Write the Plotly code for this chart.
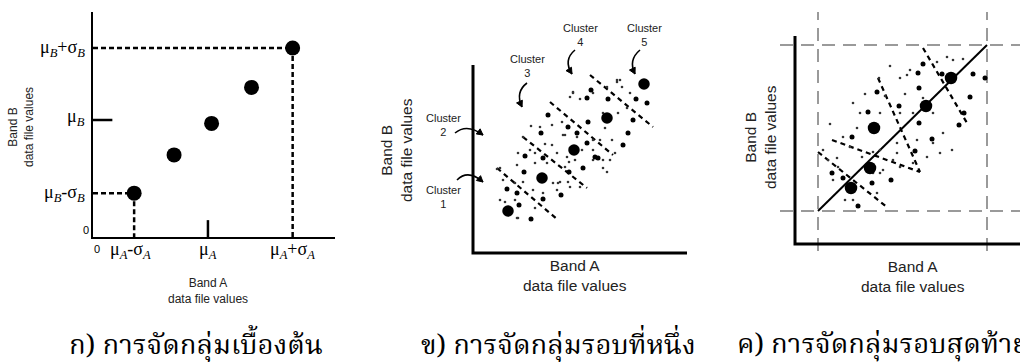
import plotly.graph_objects as go

W, H = 1020, 362

# ---------- panel (a): initial cluster means along the diagonal ----------
init_A = [17, 33.5, 49, 65.5, 82.5]
init_B = [19.5, 36.5, 50.5, 66.5, 84]
mean_A, mean_B = 47.5, 52

# ---------- panel (b): first pass ----------
p2_center_A = [35, 69, 101, 134, 171]
p2_center_B = [42, 75, 103, 135, 169]
p2_med_A = [68, 52, 70, 51, 34, 44, 88, 46, 58, 70, 96, 95, 104, 118, 114, 135, 163, 174, 160,
            155, 150, 125, 114, 115, 110, 75, 122]
p2_med_B = [120, 97, 95, 81, 64, 60, 58, 48, 34, 54, 81, 126, 120, 163, 155, 154, 154, 150, 133,
            120, 108, 95, 110, 131, 85, 138, 96]
p2_small_A = [58, 50, 79, 89, 72, 79, 62, 45, 62, 44, 84, 96, 24, 50, 42, 60, 80, 87, 95, 32, 42,
              70, 62, 44, 84, 74, 92, 144, 149, 157, 134, 120, 100, 107, 130, 145, 154, 90, 104,
              120, 127, 139, 97, 109, 120, 94, 102, 120, 130, 92, 142, 132, 144, 147, 100, 97,
              57, 67, 27, 30, 27, 45, 134, 130, 137, 85, 107, 97]
p2_small_B = [127, 116, 128, 131, 109, 108, 100, 100, 90, 88, 100, 91, 84, 71, 70, 63, 70, 71, 71,
              51, 53, 60, 45, 35, 63, 90, 118, 171, 166, 160, 166, 160, 160, 154, 140, 140, 145,
              118, 116, 113, 113, 113, 105, 103, 103, 96, 93, 93, 93, 86, 100, 125, 173, 173,
              161, 156, 103, 126, 85, 73, 53, 35, 81, 85, 93, 70, 66, 66]
p2_bounds = [((24, 85), (85, 33)), ((50, 116), (114, 65)),
             ((77, 151), (140, 98)), ((117, 178), (180, 126))]
p2_labels = ["Cluster<br>1", "Cluster<br>2", "Cluster<br>3", "Cluster<br>4", "Cluster<br>5"]
p2_label_A = [-30, -30, 54, 107, 171]
p2_label_B = [56, 128, 187, 218, 218]
# curved pointers: start, control, tip
p2_arrows = [((-16, 73), (-5, 84), (10, 71)), ((-18, 120), (-6, 130), (10, 118)),
             ((54, 170), (42, 161), (49, 146)), ((102, 203), (90, 193), (99, 179)),
             ((167, 203), (155, 193), (162, 179))]

# ---------- panel (c): final pass ----------
p3_center_A = [56, 75, 79, 131, 156]
p3_center_B = [56, 76, 116, 138, 166]
p3_med_A = [128, 123, 147, 178, 190, 82, 124, 175, 73, 104, 57, 124, 137, 164, 169, 120, 37, 48,
            96, 77, 63]
p3_med_B = [180, 171, 170, 170, 166, 152, 156, 147, 132, 138, 107, 121, 105, 119, 131, 93, 71,
            66, 64, 61, 38]
p3_small_A = [84, 105, 115, 152, 158, 142, 112, 58, 65, 85, 105, 118, 138, 148, 145, 157, 62, 48,
              55, 85, 102, 98, 105, 118, 28, 33, 42, 88, 78, 58, 82, 50, 85, 132, 138, 78, 67,
              38, 43, 102, 128, 122, 95, 90, 168, 110, 70, 35]
p3_small_B = [166, 166, 174, 187, 184, 182, 169, 141, 131, 131, 131, 131, 131, 111, 91, 94, 116,
              107, 97, 94, 101, 84, 77, 81, 94, 84, 86, 74, 71, 44, 51, 44, 71, 87, 101, 92, 87,
              64, 77, 91, 146, 104, 178, 148, 185, 150, 150, 120]
p3_bounds = [((23, 92), (93, 36)), ((37, 104), (125, 72)),
             ((83, 166), (125, 72)), ((128, 196), (172, 121))]
p3_lim_A = [23, 192]
p3_lim_B = [33, 199]

captions = ["ก) การจัดกลุ่มเบื้องต้น", "ข) การจัดกลุ่มรอบที่หนึ่ง", "ค) การจัดกลุ่มรอบสุดท้าย"]
axis_title_B = "Band B<br>data file values"
axis_title_A = "Band A<br>data file values"

SANS = "Liberation Sans, Arial, sans-serif"
SERIF = "Liberation Serif, Times New Roman, serif"
THAI = "Angsana New, TH Sarabun New, Noto Serif Thai, Norasi, Loma, Garuda, Noto Sans Thai, serif"

fig = go.Figure()


def px_x(p):
    return p / W


def px_y(p):
    return 1 - p / H


def paper_text(x, y, text, font, xanchor="center", yanchor="middle", **kw):
    fig.add_annotation(x=px_x(x), y=px_y(y), xref="paper", yref="paper", text=text,
                       showarrow=False, font=font, xanchor=xanchor, yanchor=yanchor, **kw)


# ===== panel (a) =====
ax1 = dict(xaxis="x", yaxis="y")
lo, hi = init_A[0], init_A[-1]
blo, bhi = init_B[0], init_B[-1]
dash1 = dict(color="black", width=2.5, dash="5px,3px")
for xs, ys in [([0, hi], [bhi, bhi]), ([hi, hi], [bhi, 0]),
               ([0, lo], [blo, blo]), ([lo, lo], [blo, 0])]:
    fig.add_trace(go.Scatter(x=xs, y=ys, mode="lines", line=dash1, **ax1))
tick1 = dict(color="black", width=2.5)
fig.add_trace(go.Scatter(x=[0, 8], y=[mean_B, mean_B], mode="lines", line=tick1, **ax1))
fig.add_trace(go.Scatter(x=[mean_A, mean_A], y=[0, 7.5], mode="lines", line=tick1, **ax1))
fig.add_trace(go.Scatter(x=init_A, y=init_B, mode="markers", cliponaxis=False,
                         marker=dict(size=15, color="black"), **ax1))

mu_font = dict(family=SERIF, size=18, color="black")
for txt, yv in [("μ<sub><i>B</i></sub>+σ<sub><i>B</i></sub>", bhi),
                ("μ<sub><i>B</i></sub>", mean_B + 1),
                ("μ<sub><i>B</i></sub>-σ<sub><i>B</i></sub>", blo)]:
    fig.add_annotation(x=0, y=yv, xref="x", yref="y", text=txt, showarrow=False,
                       xanchor="right", yanchor="middle", xshift=-6, font=mu_font)
for txt, xv in [("μ<sub><i>A</i></sub>-σ<sub><i>A</i></sub>", lo - 1.5),
                ("μ<sub><i>A</i></sub>", mean_A),
                ("μ<sub><i>A</i></sub>+σ<sub><i>A</i></sub>", hi)]:
    fig.add_annotation(x=xv, y=0, xref="x", yref="y", text=txt, showarrow=False,
                       xanchor="center", yanchor="top", yshift=0, font=mu_font)
zero_font = dict(family=SANS, size=11, color="black")
fig.add_annotation(x=0, y=3, xref="x", yref="y", text="0", showarrow=False,
                   xanchor="right", yanchor="middle", xshift=-2, font=zero_font)
fig.add_annotation(x=1.7, y=0, xref="x", yref="y", text="0", showarrow=False,
                   xanchor="center", yanchor="top", yshift=-4, font=zero_font)
lab1 = dict(family=SANS, size=12, color="#222")
paper_text(21, 127, axis_title_B, lab1, textangle=-90)
paper_text(208, 291, axis_title_A, lab1)

# ===== panel (b) =====
ax2 = dict(xaxis="x2", yaxis="y2")
fig.add_trace(go.Scatter(x=[0, 0, 214], y=[188, 0, 0], mode="lines",
                         line=dict(color="black", width=3), **ax2))
bdash = dict(color="black", width=2.2, dash="5px,4px")
for (a0, b0), (a1, b1) in p2_bounds:
    fig.add_trace(go.Scatter(x=[a0, a1], y=[b0, b1], mode="lines", line=bdash, **ax2))
fig.add_trace(go.Scatter(x=p2_small_A, y=p2_small_B, mode="markers",
                         marker=dict(size=2.6, color="#333"), **ax2))
fig.add_trace(go.Scatter(x=p2_med_A, y=p2_med_B, mode="markers",
                         marker=dict(size=5, color="black"), **ax2))
fig.add_trace(go.Scatter(x=p2_center_A, y=p2_center_B, mode="markers",
                         marker=dict(size=11.5, color="black"), **ax2))
for txt, xv, yv in zip(p2_labels, p2_label_A, p2_label_B):
    fig.add_annotation(x=xv, y=yv, xref="x2", yref="y2", text=txt, showarrow=False,
                       font=dict(family=SANS, size=11, color="#222"))
for (s, c, t) in p2_arrows:
    fig.add_shape(type="path", xref="x2", yref="y2",
                  path=f"M {s[0]},{s[1]} Q {c[0]},{c[1]} {t[0]},{t[1]}",
                  line=dict(color="black", width=1.6))
    # arrowhead: small filled triangle along the curve's end tangent
    dx, dy = t[0] - c[0], t[1] - c[1]
    n = (dx * dx + dy * dy) ** 0.5
    ux, uy = dx / n, dy / n
    bx, by = t[0] - 6 * ux, t[1] - 6 * uy
    px_, py_ = -uy * 3.2, ux * 3.2
    fig.add_shape(type="path", xref="x2", yref="y2",
                  path=(f"M {t[0]},{t[1]} L {bx + px_},{by + py_} "
                        f"L {bx - px_},{by - py_} Z"),
                  line=dict(color="black", width=1), fillcolor="black")
lab2 = dict(family=SANS, size=15.5, color="#222")
paper_text(397, 150, axis_title_B, lab2, textangle=-90)
paper_text(575, 275, axis_title_A, lab2)

# ===== panel (c) =====
ax3 = dict(xaxis="x3", yaxis="y3")
gdash = dict(color="#7a7a7a", width=1.5, dash="13px,8px")
for v in p3_lim_A:
    fig.add_trace(go.Scatter(x=[v, v], y=[-7, 232], mode="lines", line=gdash, **ax3))
for v in p3_lim_B:
    fig.add_trace(go.Scatter(x=[-15, 225], y=[v, v], mode="lines", line=gdash, **ax3))
fig.add_trace(go.Scatter(x=[0, 0, 225], y=[208, 0, 0], mode="lines",
                         line=dict(color="black", width=3), **ax3))
for (a0, b0), (a1, b1) in p3_bounds:
    fig.add_trace(go.Scatter(x=[a0, a1], y=[b0, b1], mode="lines", line=bdash, **ax3))
fig.add_trace(go.Scatter(x=p3_lim_A, y=p3_lim_B, mode="lines",
                         line=dict(color="black", width=2), **ax3))
fig.add_trace(go.Scatter(x=p3_small_A, y=p3_small_B, mode="markers",
                         marker=dict(size=2.6, color="#333"), **ax3))
fig.add_trace(go.Scatter(x=p3_med_A, y=p3_med_B, mode="markers",
                         marker=dict(size=5, color="black"), **ax3))
fig.add_trace(go.Scatter(x=p3_center_A, y=p3_center_B, mode="markers",
                         marker=dict(size=12.5, color="black"), **ax3))
paper_text(760, 137, axis_title_B, lab2, textangle=-90)
paper_text(913, 276, axis_title_A, lab2)

# ===== captions =====
cap_font = dict(family=THAI, size=27.5, color="black")
paper_text(196, 346, captions[0], cap_font)
paper_text(698, 346, captions[1], cap_font, xanchor="right")
paper_text(735, 346, captions[2], cap_font, xanchor="left")

hidden = dict(showgrid=False, zeroline=False, showticklabels=False, ticks="", fixedrange=True)
fig.update_layout(
    width=W, height=H, margin=dict(l=0, r=0, t=0, b=0),
    paper_bgcolor="white", plot_bgcolor="rgba(0,0,0,0)", showlegend=False,
    xaxis=dict(domain=[px_x(93), px_x(335)], range=[0, 100], anchor="y",
               showline=True, linecolor="black", linewidth=2, **hidden),
    yaxis=dict(domain=[px_y(237), px_y(12)], range=[0, 100], anchor="x",
               showline=True, linecolor="black", linewidth=2, **hidden),
    xaxis2=dict(domain=[px_x(430), px_x(690)], range=[-43, 217], anchor="y2",
                showline=False, **hidden),
    yaxis2=dict(domain=[px_y(258), px_y(15)], range=[-5, 238], anchor="x2",
                showline=False, **hidden),
    xaxis3=dict(domain=[px_x(775), 1.0], range=[-20, 225], anchor="y3",
                showline=False, **hidden),
    yaxis3=dict(domain=[px_y(255), px_y(8)], range=[-11, 236], anchor="x3",
                showline=False, **hidden),
)
fig.update_traces(hoverinfo="skip")

fig.write_html("out.html")
